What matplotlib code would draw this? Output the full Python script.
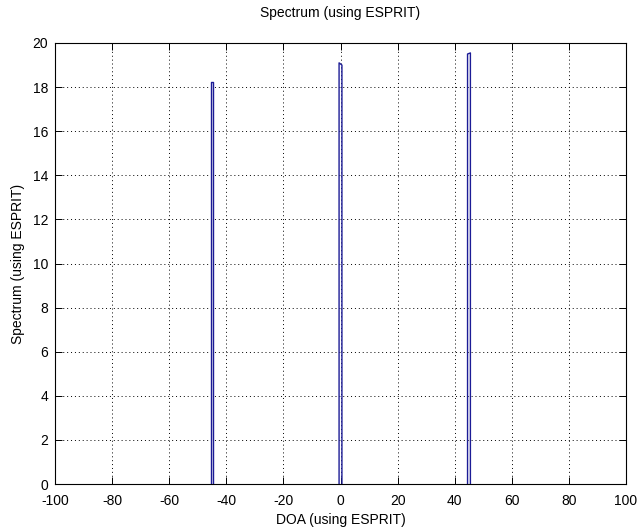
import matplotlib
matplotlib.use("Agg")
import matplotlib.pyplot as plt

plt.rcParams['font.family'] = ['Liberation Sans', 'DejaVu Sans']
plt.rcParams['axes.unicode_minus'] = False

# Estimated directions of arrival (deg) and spectrum heights at each peak edge
doa_left = [-45.5, -0.5, 44.5]
doa_right = [-44.5, 0.5, 45.5]
peak_left = [18.22, 19.10, 19.50]
peak_right = [18.22, 19.00, 19.55]

xticks = [-100, -80, -60, -40, -20, 0, 20, 40, 60, 80, 100]
yticks = [0, 2, 4, 6, 8, 10, 12, 14, 16, 18, 20]

W, H = 641, 530
left, right, top, bottom = 55, 626, 43, 484

fig = plt.figure(figsize=(W / 100, H / 100), dpi=100)
ax = fig.add_axes([left / W, 1 - bottom / H, (right - left) / W, (bottom - top) / H])

for xl, xr, yl, yr in zip(doa_left, doa_right, peak_left, peak_right):
    ax.plot([xl, xl, xr, xr], [0, yl, yr, 0], color='#1c1c96', linewidth=1.0)

ax.set_xlim(-100, 100)
ax.set_ylim(0, 20)
ax.set_xticks(xticks)
ax.set_yticks(yticks)
ax.grid(True, color='black', linestyle=(0, (1, 3)), linewidth=0.7)
ax.tick_params(direction='in', top=True, right=True, length=5, labelsize=10,
               width=0.7, pad=5)
ax.tick_params(axis='x', pad=7)
for s in ax.spines.values():
    s.set_linewidth(0.8)

ax.set_title('Spectrum (using ESPRIT)', fontsize=10, pad=19)
ax.set_xlabel('DOA (using ESPRIT)', fontsize=10, labelpad=4)
ax.set_ylabel('Spectrum (using ESPRIT)', fontsize=10, labelpad=5)

fig.savefig('out.png', dpi=100)
